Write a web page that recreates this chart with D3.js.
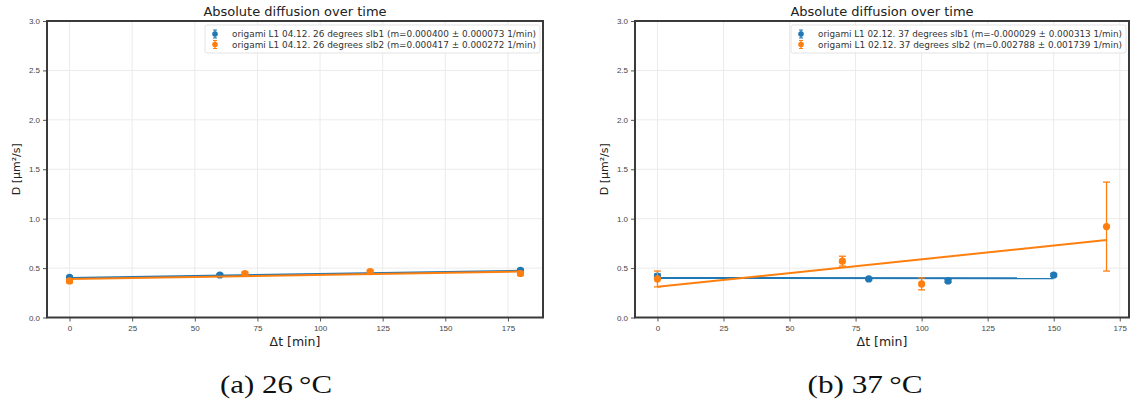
<!DOCTYPE html>
<html>
<head>
<meta charset="utf-8">
<script src="https://cdnjs.cloudflare.com/ajax/libs/d3/7.8.5/d3.min.js"></script>
<style>
  body { margin: 0; background: #fff; }
  svg { display: block; font-family: "DejaVu Sans", sans-serif; }
</style>
</head>
<body>
<div id="chart"></div>
<script>

// shared ticks
const xTicks = [0, 25, 50, 75, 100, 125, 150, 175];
const yTicks = [0, 0.5, 1.0, 1.5, 2.0, 2.5, 3.0];

// (a) 26 C
const aTime1 = [0, 60, 180];
const aD1 = [0.405, 0.43, 0.478];
const aErr1 = [0.012, 0.01, 0.012];
const aTime2 = [0, 70, 120, 180];
const aD2 = [0.37, 0.445, 0.465, 0.445];
const aErr2 = [0.02, 0.015, 0.015, 0.02];
const aFitX1 = [0, 180], aFitY1 = [0.400, 0.472];
const aFitX2 = [0, 180], aFitY2 = [0.390, 0.465];
const aLabels = ["origami L1 04.12. 26 degrees slb1 (m=0.000400 \u00b1 0.000073 1/min)",
                 "origami L1 04.12. 26 degrees slb2 (m=0.000417 \u00b1 0.000272 1/min)"];

// (b) 37 C
const bTime1 = [0, 80, 110, 150];
const bD1 = [0.42, 0.39, 0.37, 0.43];
const bErr1 = [0.02, 0.01, 0.015, 0.015];
const bTime2 = [0, 70, 100, 170];
const bD2 = [0.39, 0.57, 0.34, 0.92];
const bErr2 = [0.08, 0.05, 0.06, 0.45];
const bFitX1 = [0, 150], bFitY1 = [0.400, 0.396];
const bFitX2 = [0, 170], bFitY2 = [0.310, 0.784];
const bLabels = ["origami L1 02.12. 37 degrees slb1 (m=-0.000029 \u00b1 0.000313 1/min)",
                 "origami L1 02.12. 37 degrees slb2 (m=0.002788 \u00b1 0.001739 1/min)"];

const blue = "#1f77b4", orange = "#ff7f0e";

const svg = d3.select("#chart").append("svg")
  .attr("width", 1132).attr("height", 407);

function zip(xs, ys, es) {
  return xs.map((x, i) => ({x: x, y: ys[i], e: es ? es[i] : 0}));
}

function drawPanel(p) {
  const allX = p.series.flatMap(s => s.x);
  const lo = d3.min(allX), hi = d3.max(allX), pad = (hi - lo) * 0.05;
  const xScale = d3.scaleLinear().domain([lo - pad, hi + pad]).range([p.left, p.right]);
  const yScale = d3.scaleLinear().domain([0, 3]).range([p.bottom, p.top]);
  const g = svg.append("g");

  // grid
  g.selectAll(".gx").data(xTicks).enter().append("line")
    .attr("x1", d => xScale(d)).attr("x2", d => xScale(d))
    .attr("y1", p.top).attr("y2", p.bottom)
    .attr("stroke", "#ebebeb").attr("stroke-width", 1);
  g.selectAll(".gy").data(yTicks).enter().append("line")
    .attr("x1", p.left).attr("x2", p.right)
    .attr("y1", d => yScale(d)).attr("y2", d => yScale(d))
    .attr("stroke", "#ebebeb").attr("stroke-width", 1);

  // axes
  const xAxis = g.append("g").attr("transform", "translate(0," + p.bottom + ")")
    .call(d3.axisBottom(xScale).tickValues(xTicks).tickSize(4).tickPadding(4).tickFormat(d3.format("d")));
  const yAxis = g.append("g").attr("transform", "translate(" + p.left + ",0)")
    .call(d3.axisLeft(yScale).tickValues(yTicks).tickSize(4).tickPadding(3).tickFormat(d3.format(".1f")));
  [xAxis, yAxis].forEach(a => {
    a.select(".domain").remove();
    a.selectAll("line").attr("stroke", "#555");
    a.selectAll("text").attr("fill", "#444").style("font-size", "8px");
  });

  // series
  p.series.forEach(s => {
    const pts = zip(s.x, s.y, s.e);
    g.selectAll(null).data(pts).enter().append("line")
      .attr("x1", d => xScale(d.x)).attr("x2", d => xScale(d.x))
      .attr("y1", d => yScale(d.y - d.e)).attr("y2", d => yScale(d.y + d.e))
      .attr("stroke", s.color).attr("stroke-width", 1.3);
    [-1, 1].forEach(sign => {
      g.selectAll(null).data(pts).enter().append("line")
        .attr("x1", d => xScale(d.x) - 3.5).attr("x2", d => xScale(d.x) + 3.5)
        .attr("y1", d => yScale(d.y + sign * d.e)).attr("y2", d => yScale(d.y + sign * d.e))
        .attr("stroke", s.color).attr("stroke-width", 1.3);
    });
    g.selectAll(null).data(pts).enter().append("circle")
      .attr("cx", d => xScale(d.x)).attr("cy", d => yScale(d.y))
      .attr("r", 3.6).attr("fill", s.color);
    const fit = zip(s.fitX, s.fitY);
    g.append("path").datum(fit)
      .attr("d", d3.line().x(d => xScale(d.x)).y(d => yScale(d.y)))
      .attr("fill", "none").attr("stroke", s.color).attr("stroke-width", 2);
  });

  // frame
  g.append("rect")
    .attr("x", p.left).attr("y", p.top)
    .attr("width", p.right - p.left).attr("height", p.bottom - p.top)
    .attr("fill", "none").attr("stroke", "#3a3a3a").attr("stroke-width", 2);

  // legend
  const lw = p.legendW, lx = p.right - 3 - lw, ly = p.top + 4;
  g.append("rect").attr("x", lx).attr("y", ly).attr("width", lw).attr("height", 28)
    .attr("rx", 2).attr("fill", "#fff").attr("fill-opacity", 0.85)
    .attr("stroke", "#dcdcdc").attr("stroke-width", 0.8);
  p.series.forEach((s, i) => {
    const cy = ly + 9 + i * 10.5, mx = lx + 10;
    g.append("line").attr("x1", mx).attr("x2", mx).attr("y1", cy - 4).attr("y2", cy + 4)
      .attr("stroke", s.color).attr("stroke-width", 1.2);
    g.append("line").attr("x1", mx - 2).attr("x2", mx + 2).attr("y1", cy - 4).attr("y2", cy - 4)
      .attr("stroke", s.color).attr("stroke-width", 1);
    g.append("line").attr("x1", mx - 2).attr("x2", mx + 2).attr("y1", cy + 4).attr("y2", cy + 4)
      .attr("stroke", s.color).attr("stroke-width", 1);
    g.append("circle").attr("cx", mx).attr("cy", cy).attr("r", 2.8).attr("fill", s.color);
    g.append("text").attr("x", lx + 27).attr("y", cy + 3)
      .attr("fill", "#333").style("font-size", "8px")
      .attr("textLength", lw - 31).attr("lengthAdjust", "spacingAndGlyphs")
      .text(s.label);
  });

  const cx = (p.left + p.right) / 2;
  g.append("text").attr("x", cx).attr("y", 16).attr("text-anchor", "middle")
    .attr("fill", "#222").style("font-size", "13px").text("Absolute diffusion over time");
  g.append("text").attr("x", cx).attr("y", 346).attr("text-anchor", "middle")
    .attr("fill", "#222").style("font-size", "12.5px").text("\u0394t [min]");
  g.append("text").attr("transform", "translate(" + (p.left - 27) + "," + ((p.top + p.bottom) / 2) + ") rotate(-90)")
    .attr("text-anchor", "middle").attr("fill", "#222").style("font-size", "11px")
    .text("D [\u00b5m\u00b2/s]");

  svg.append("text").attr("x", p.capX).attr("y", 393)
    .attr("text-anchor", "middle")
    .style("font-family", "'Liberation Serif', serif").style("font-size", "25px")
    .attr("fill", "#111")
    .attr("textLength", p.capW).attr("lengthAdjust", "spacingAndGlyphs")
    .text(p.caption);
}

drawPanel({
  left: 47, right: 543, top: 21, bottom: 317.5, legendW: 335,
  caption: "(a) 26\u2009\u00b0C", capX: 276, capW: 112,
  series: [
    {x: aTime1, y: aD1, e: aErr1, fitX: aFitX1, fitY: aFitY1, color: blue, label: aLabels[0]},
    {x: aTime2, y: aD2, e: aErr2, fitX: aFitX2, fitY: aFitY2, color: orange, label: aLabels[1]}
  ]
});

drawPanel({
  left: 635, right: 1129, top: 21, bottom: 317.5, legendW: 335,
  caption: "(b) 37\u2009\u00b0C", capX: 865, capW: 115,
  series: [
    {x: bTime1, y: bD1, e: bErr1, fitX: bFitX1, fitY: bFitY1, color: blue, label: bLabels[0]},
    {x: bTime2, y: bD2, e: bErr2, fitX: bFitX2, fitY: bFitY2, color: orange, label: bLabels[1]}
  ]
});

</script>
</body>
</html>
